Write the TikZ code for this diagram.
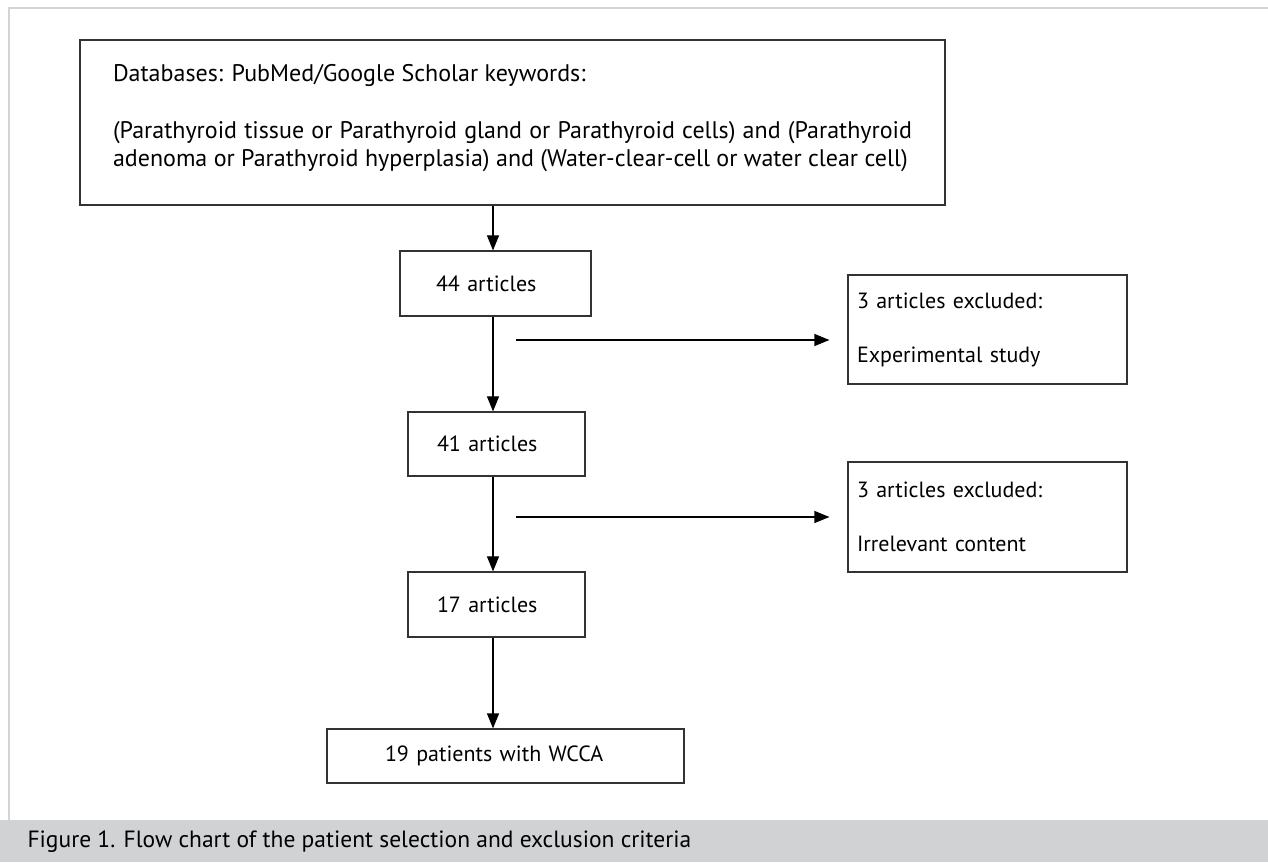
\documentclass[tikz,border=0pt]{standalone}
\usepackage{fontspec}
\setmainfont{PT Sans}
\usepackage{tikz}
\usetikzlibrary{arrows.meta}
\usetikzlibrary{positioning}
\definecolor{linegray}{RGB}{51,51,51}
\definecolor{framegray}{RGB}{212,212,212}
\definecolor{bargray}{RGB}{209,210,212}
\tikzset{
    stage/.style={
           rectangle,
           draw=linegray, line width=1.2pt,
           inner ysep=0pt,
           align=left,
           font=\fontsize{22}{27}\selectfont,
           },
    flow/.style={
           draw=black, line width=1.2pt,
           -{Triangle[length=15pt,width=12pt]},
           },
}

\begin{document}
\begin{tikzpicture}[x=1pt,y=1pt]
 \useasboundingbox (0,0) rectangle (1268,862);

 % frame and caption bar
 \fill[bargray] (0,0) rectangle (1268,42);
 \draw[framegray, line width=1.5pt] (9,42) -- (9,854) -- (1268,854);
 \node[anchor=west, font=\fontsize{23.5}{28}\selectfont] (Caption) at (24,20)
 {Figure 1. Flow chart of the patient selection and exclusion criteria};

 % search
 \node[stage,
  align=justify,
  font=\fontsize{24}{28}\selectfont,
  text width=799pt,
  inner xsep=33pt,
  minimum height=165pt,
  anchor=center] (Databases) at (512.5,739.5)
 {Databases: PubMed/Google Scholar keywords:\\[29pt]
  (Parathyroid tissue or Parathyroid gland or Parathyroid cells) and (Parathyroid\linebreak
  adenoma or Parathyroid hyperplasia) and (Water-clear-cell or water clear cell)\\[-14pt]\null};

 \node[stage,
  below of=Databases,
  node distance=161pt,
  xshift=-17pt,
  text width=119pt,
  inner xsep=36pt,
  minimum height=65pt,
  anchor=center] (Articles44)
 {44 articles};

 \node[stage,
  below of=Articles44,
  node distance=160.5pt,
  xshift=1pt,
  text width=119pt,
  inner xsep=29pt,
  minimum height=64pt,
  anchor=center] (Articles41)
 {41 articles};

 \node[stage,
  below of=Articles41,
  node distance=160.5pt,
  text width=119pt,
  inner xsep=29pt,
  minimum height=65pt,
  anchor=center] (Articles17)
 {17 articles};

 \node[stage,
  below of=Articles17,
  node distance=151.5pt,
  xshift=9pt,
  text width=241pt,
  inner xsep=58pt,
  minimum height=54pt,
  anchor=center] (Patients)
 {19 patients with WCCA};

 % exclusions
 \node[stage,
  right of=Articles44,
  node distance=492pt,
  yshift=-46pt,
  text width=261pt,
  inner xsep=9pt,
  minimum height=109pt,
  anchor=center] (Excluded1)
 {3 articles excluded:\\[27pt]Experimental study};

 \node[stage,
  right of=Articles41,
  node distance=491pt,
  yshift=-73pt,
  text width=261pt,
  inner xsep=9pt,
  minimum height=110pt,
  anchor=center] (Excluded2)
 {3 articles excluded:\\[27pt]Irrelevant content};

 % draw the paths
 \coordinate (Spine) at (493,0);
 \coordinate (Exit1) at (516,522);
 \coordinate (Exit2) at (516,345);

 \draw[flow] (Databases.south -| Spine) -- (Articles44.north -| Spine);
 \draw[flow] (Articles44.south -| Spine) -- (Articles41.north -| Spine);
 \draw[flow] (Articles41.south -| Spine) -- (Articles17.north -| Spine);
 \draw[flow] (Articles17.south -| Spine) -- (Patients.north -| Spine);
 \draw[flow, shorten >=18pt] (Exit1) -- (Exit1 -| Excluded1.west);
 \draw[flow, shorten >=18pt] (Exit2) -- (Exit2 -| Excluded2.west);

\end{tikzpicture}
\end{document}
